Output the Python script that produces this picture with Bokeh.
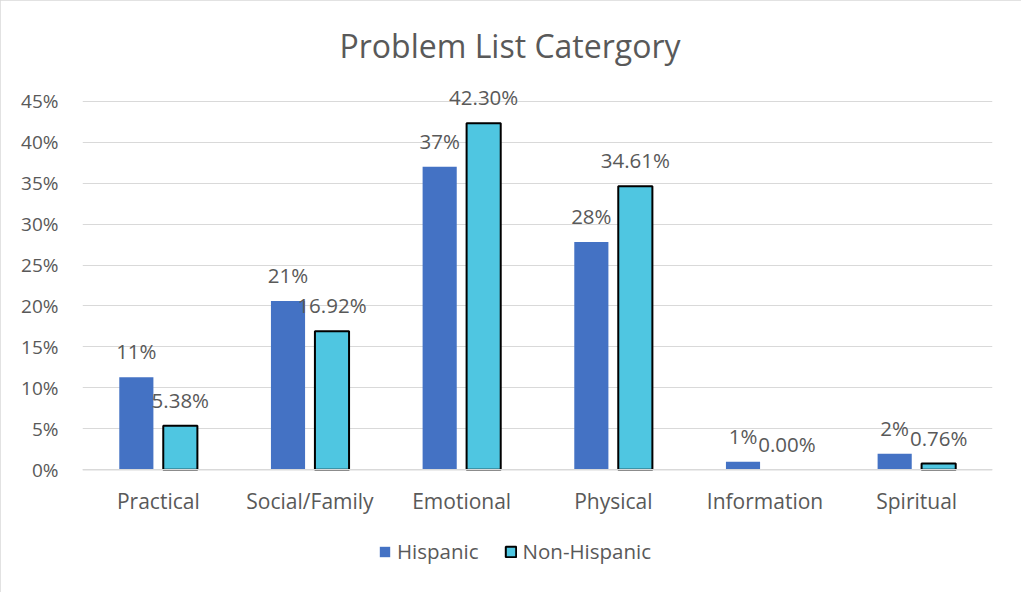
from bokeh.plotting import figure
from bokeh.models import (ColumnDataSource, FactorRange, LabelSet, Legend, LegendItem,
                          NumeralTickFormatter, FixedTicker, Range1d, Span)
from bokeh.transform import dodge
from bokeh.core.properties import value
from bokeh.embed import file_html
from bokeh.resources import INLINE

# ---- data ----
categories = ["Practical", "Social/Family", "Emotional", "Physical", "Information", "Spiritual"]
hispanic = [0.113, 0.206, 0.370, 0.278, 0.0098, 0.0195]
non_hispanic = [0.0538, 0.1692, 0.4230, 0.3461, 0.0, 0.0076]
y_ticks = [0.0, 0.05, 0.10, 0.15, 0.20, 0.25, 0.30, 0.35, 0.40, 0.45]
series_names = ["Hispanic", "Non-Hispanic"]
chart_title = "Problem List Catergory"

FONT = "Open Sans"
TXT = "#595959"
GRID = "#D9D9D9"
C_H = "#4472C4"
C_N = "#4FC6E1"

src = ColumnDataSource(dict(
    cat=categories,
    h=hispanic,
    n=non_hispanic,
    h_lab=[f"{v*100:.0f}%" for v in hispanic],
    n_lab=[f"{v*100:.2f}%" for v in non_hispanic],
    n_line=[1.0 if v > 0 else 0.0 for v in non_hispanic],
))

# frame extends below the 0% line so that category labels and legend live inside it
p = figure(width=1021, height=592, x_range=FactorRange(*categories, range_padding=0),
           y_range=Range1d(-0.13515, 0.46917), output_backend="svg", toolbar_location=None,
           min_border_left=82, min_border_right=29, min_border_top=85, min_border_bottom=12)
p.outline_line_color = None
p.background_fill_color = "white"
p.border_fill_color = "white"

p.title.text = chart_title
p.title.align = "left"
p.title.offset = 257
p.title.text_font = FONT
p.title.text_font_size = "32px"
p.title.text_font_style = "normal"
p.title.text_color = TXT
p.title.standoff = 38

p.xgrid.visible = False
p.ygrid.grid_line_color = GRID
p.ygrid.grid_line_width = 1
p.ygrid.ticker = FixedTicker(ticks=y_ticks)
p.add_layout(Span(location=y_ticks[0], dimension="width", line_color=GRID, line_width=1.5))

off = 0.145
w = 0.225
r1 = p.vbar(x=dodge("cat", -off, range=p.x_range), top="h", width=w, source=src,
            fill_color=C_H, line_color=None)
r2 = p.vbar(x=dodge("cat", off, range=p.x_range), top="n", width=w, source=src,
            fill_color=C_N, line_color="black", line_width=2, line_alpha="n_line")

for col, ycol, o in (("h_lab", "h", -off), ("n_lab", "n", off)):
    p.add_layout(LabelSet(x=dodge("cat", o, range=p.x_range), y=ycol, text=col, source=src,
                          text_align="center", text_baseline="alphabetic", y_offset=18,
                          text_font=value(FONT), text_font_size="20.5px", text_color=TXT))

# category labels under the 0% line
p.add_layout(LabelSet(x="cat", y=y_ticks[0], text="cat", source=src,
                      text_align="center", text_baseline="middle", y_offset=-31,
                      text_font=value(FONT), text_font_size="21px", text_color=TXT))

p.xaxis.visible = False

p.yaxis.ticker = FixedTicker(ticks=y_ticks)
p.yaxis.formatter = NumeralTickFormatter(format="0%")
p.yaxis.axis_line_color = None
p.yaxis.major_tick_line_color = None
p.yaxis.minor_tick_line_color = None
p.yaxis.major_label_text_font = FONT
p.yaxis.major_label_text_font_size = "19px"
p.yaxis.major_label_text_color = TXT
p.yaxis.major_label_standoff = 18

legend = Legend(items=[LegendItem(label=series_names[0], renderers=[r1]),
                       LegendItem(label=series_names[1], renderers=[r2])],
                orientation="horizontal", location=(296, 15),
                border_line_color=None, background_fill_alpha=0,
                glyph_width=13, glyph_height=13, label_standoff=6, spacing=25,
                label_text_font=FONT, label_text_font_size="20.5px", label_text_color=TXT,
                padding=0, margin=0)
p.add_layout(legend, "center")

p.styles = {"outline": "2px solid #D9D9D9", "outline-offset": "-2px"}

open("out.html", "w").write(file_html(p, INLINE))
